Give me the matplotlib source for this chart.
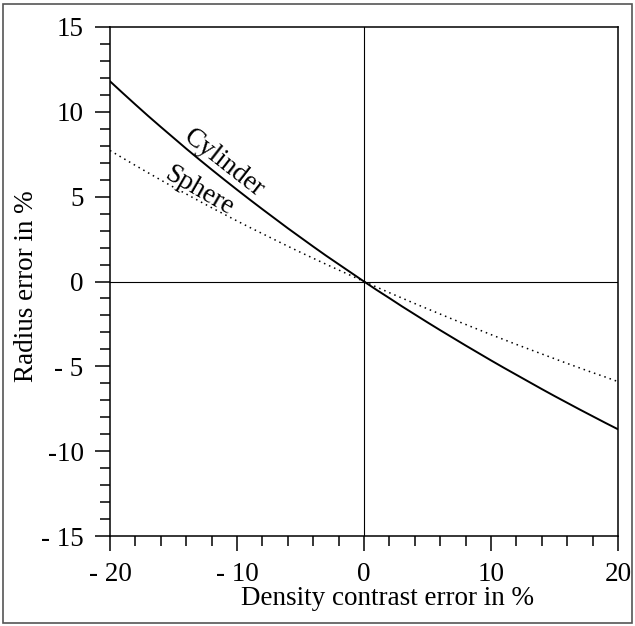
import matplotlib.pyplot as plt
from matplotlib.patches import Rectangle
from matplotlib.ticker import MultipleLocator, FixedLocator

# values (density contrast error -> radius error, in %)
density_err = list(range(-20, 21))
cylinder = [11.80, 11.11, 10.43, 9.76, 9.11, 8.47, 7.83, 7.21, 6.60, 6.00,
            5.41, 4.83, 4.26, 3.70, 3.14, 2.60, 2.06, 1.53, 1.02, 0.51,
            0.00, -0.50, -0.98, -1.47, -1.94, -2.41, -2.87, -3.32, -3.77, -4.21,
            -4.65, -5.08, -5.50, -5.92, -6.34, -6.75, -7.15, -7.55, -7.94, -8.33, -8.71]
sphere = [7.72, 7.28, 6.84, 6.41, 5.98, 5.56, 5.16, 4.75, 4.35, 3.96,
          3.57, 3.19, 2.82, 2.45, 2.08, 1.72, 1.37, 1.02, 0.68, 0.34,
          0.00, -0.33, -0.66, -0.98, -1.30, -1.61, -1.92, -2.23, -2.53, -2.83,
          -3.13, -3.42, -3.71, -3.99, -4.27, -4.55, -4.83, -5.10, -5.37, -5.63, -5.90]

xticks = [-20, -10, 0, 10, 20]
xticklabels = ['- 20', '- 10', '0', '10', '20']
yticks = [15, 10, 5, 0, -5, -10, -15]
yticklabels = ['15', '10', '5', '0', '- 5', '-10', '- 15']

plt.rcParams['font.family'] = 'Liberation Serif'
plt.rcParams['font.size'] = 19.5

W, H = 635, 626
fig = plt.figure(figsize=(W / 100, H / 100), dpi=100)
fig.patches.append(Rectangle((3 / W, 3 / H), 1 - 6 / W, 1 - 7 / H, transform=fig.transFigure,
                             fill=False, edgecolor='#555555', linewidth=1.2))

ax = fig.add_axes([110 / W, (H - 536) / H, 508 / W, 509 / H])

ax.axhline(0, color='k', linewidth=0.8)
ax.axvline(0, color='k', linewidth=0.8)
ax.plot(density_err, cylinder, color='k', linewidth=1.4)
ax.plot(density_err, sphere, color='k', linewidth=1.1, linestyle=(0, (1, 2.6)))

ax.text(-11.0, 6.95, 'Cylinder', rotation=-38, ha='center', va='center')
ax.text(-13.0, 5.35, 'Sphere', rotation=-30, ha='center', va='center')

ax.set_xlim(-20, 20)
ax.set_ylim(-15, 15)
ax.xaxis.set_major_locator(FixedLocator(xticks))
ax.set_xticklabels(xticklabels)
ax.yaxis.set_major_locator(FixedLocator(yticks))
ax.set_yticklabels(yticklabels)
ax.xaxis.set_minor_locator(MultipleLocator(2))
ax.yaxis.set_minor_locator(MultipleLocator(1))
ax.tick_params(which='major', direction='out', length=11, width=1.1, pad=8)
ax.tick_params(which='minor', direction='out', length=7, width=1.1)
for s in ax.spines.values():
    s.set_linewidth(1.1)

ax.set_xlabel('Density contrast error in %')
ax.set_ylabel('Radius error in %')
ax.xaxis.set_label_coords(0.547, -0.098)
ax.yaxis.set_label_coords(-0.139, 0.49)

fig.savefig('out.png', dpi=100)
